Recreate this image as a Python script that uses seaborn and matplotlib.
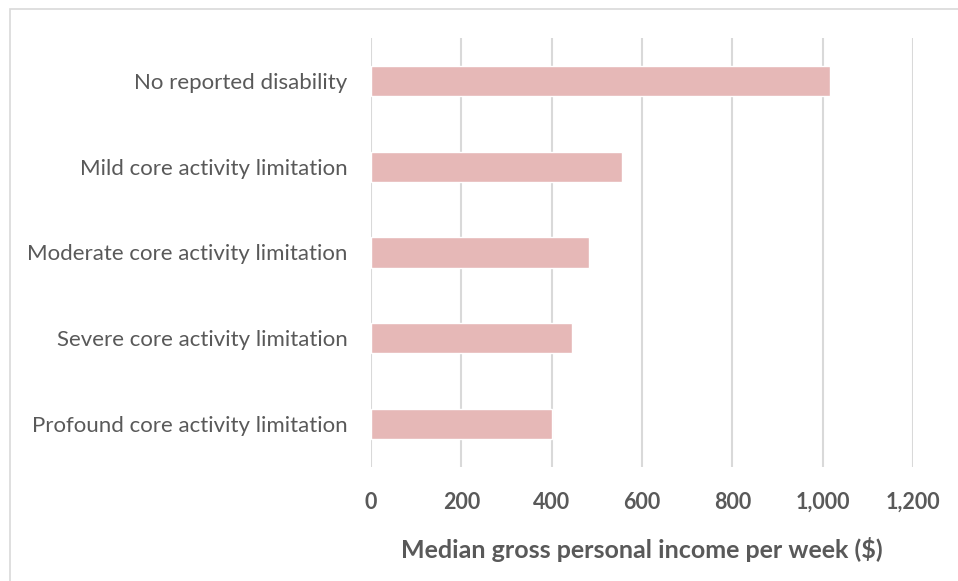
import matplotlib
matplotlib.use("Agg")
import matplotlib.pyplot as plt
import seaborn as sns
import pandas as pd
from matplotlib.patches import Rectangle
from matplotlib.ticker import FuncFormatter

categories = [
    "No reported disability",
    "Mild core activity limitation",
    "Moderate core activity limitation",
    "Severe core activity limitation",
    "Profound core activity limitation",
]
values = [1016, 556, 482, 445, 400]
x_ticks = [0, 200, 400, 600, 800, 1000, 1200]
x_label = "Median gross personal income per week ($)"

df = pd.DataFrame({"category": categories, "value": values})

sns.set_theme(style="white")
plt.rcParams["font.family"] = ["Lato", "DejaVu Sans"]

fig = plt.figure(figsize=(9.58, 5.81), dpi=100)
ax = fig.add_axes([371 / 958, 1 - 467 / 581, (913 - 371) / 958, (467 - 38) / 581])

sns.barplot(data=df, x="value", y="category", orient="h", color="#E6B8B7",
            saturation=1, width=0.35, ax=ax, zorder=3)

ax.set_xlim(0, 1200)
ax.set_xticks(x_ticks)
ax.xaxis.set_major_formatter(FuncFormatter(lambda v, p: f"{int(v):,}"))
ax.grid(axis="x", color="#D9D9D9", linewidth=1.5, zorder=0)
ax.grid(axis="y", visible=False)
for s in ax.spines.values():
    s.set_visible(False)
ax.tick_params(axis="x", length=0, pad=18, labelsize=15.5, labelcolor="#595959")
ax.tick_params(axis="y", length=0, pad=17, labelsize=16, labelcolor="#595959")
for t in ax.get_xticklabels():
    t.set_fontweight("bold")
ax.set_ylabel("")
ax.set_xlabel(x_label, fontsize=18, fontweight="bold", color="#595959", labelpad=17)

fig.patches.append(Rectangle((10 / 958, -0.1), 1.2, 1 - 9 / 581 + 0.1,
                             transform=fig.transFigure, fill=False,
                             edgecolor="#D9D9D9", linewidth=1.2))

fig.savefig("out.png", dpi=100)
